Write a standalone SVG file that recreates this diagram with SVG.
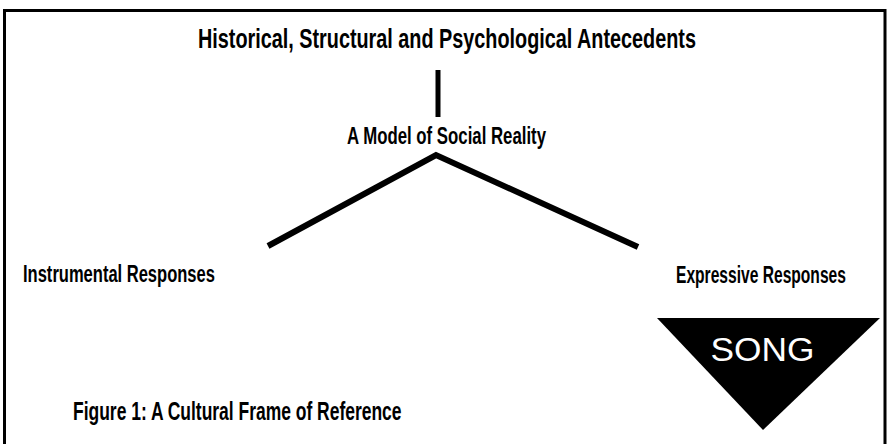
<svg xmlns="http://www.w3.org/2000/svg" width="889" height="444" viewBox="0 0 889 444">
<style>
.t{font-family:"Liberation Sans",Arial,sans-serif;font-weight:bold;fill:#000}
.ln{stroke:#000;fill:none}
</style>
<rect x="0" y="0" width="889" height="444" fill="#fff"/>
<polyline class="ln" points="4.5,450 4.5,10.5 885,10.5 885,450" stroke-width="3"/>
<g id="antecedents"><text class="t" transform="translate(198,48) scale(0.734,1)" font-size="27">Historical, Structural and Psychological Antecedents</text></g>
<g id="model"><text class="t" transform="translate(347,144) scale(0.70,1)" font-size="24">A Model of Social Reality</text></g>
<g id="instrumental"><text class="t" transform="translate(23,282) scale(0.689,1)" font-size="24">Instrumental Responses</text></g>
<g id="expressive"><text class="t" transform="translate(676,283) scale(0.65,1)" font-size="24">Expressive Responses</text></g>
<g id="song"><polygon points="657,318 880,318 763,430" fill="#000"/><text transform="translate(762.5,361) scale(1.07,1)" font-family="'Liberation Sans',Arial,sans-serif" font-size="33" fill="#fff" text-anchor="middle">SONG</text></g>
<g id="caption"><text class="t" transform="translate(73,420) scale(0.699,1)" font-size="25">Figure 1: A Cultural Frame of Reference</text></g>
<g id="connectors">
<line class="ln" x1="438" y1="70" x2="438" y2="117" stroke-width="5"/>
<polyline class="ln" points="268,246 436,155 638,247" stroke-width="6"/>
</g>
</svg>
